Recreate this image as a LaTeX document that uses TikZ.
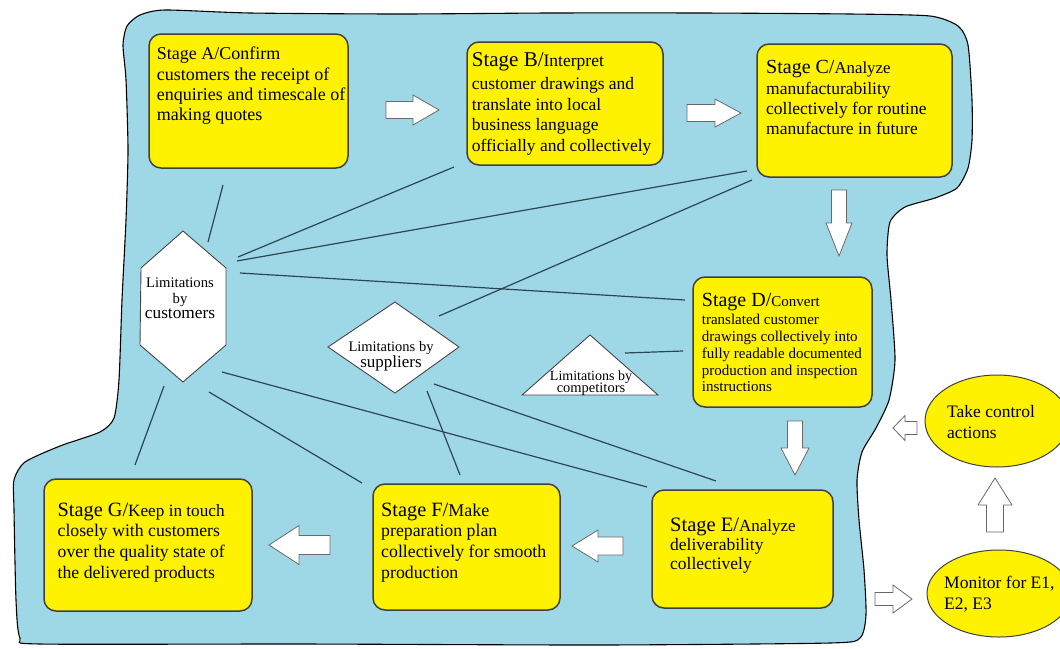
\documentclass[tikz,border=0pt]{standalone}
\usepackage{fontspec}
\setmainfont{Liberation Serif}
\usetikzlibrary{calc,shapes.geometric}
\definecolor{blobfill}{RGB}{158,216,231}
\definecolor{boxfill}{RGB}{255,242,0}
\definecolor{boxdraw}{RGB}{64,64,64}
\definecolor{linkcol}{RGB}{45,70,85}
\definecolor{arrdraw}{RGB}{105,105,105}
\definecolor{shapedraw}{RGB}{70,70,70}
\newcommand{\fs}[2]{\fontsize{#1}{#2}\selectfont}
\newcommand{\blockarrow}[7]{\draw[barrow,shift={(#1,#2)},rotate=#3] (0,#7) -- ({#4-#5},#7) -- ({#4-#5},#6) -- (#4,0) -- ({#4-#5},-#6) -- ({#4-#5},-#7) -- (0,-#7) -- cycle;}
\tikzset{
  stagebox/.style={draw=boxdraw, line width=1.5pt, fill=boxfill, rounded corners=12pt, inner sep=0pt},
  stagetext/.style args={#1/#2}{anchor=north west, align=left, inner sep=0pt, font={\fs{#1}{#2}\lineskiplimit=-50pt\lineskip=0pt}},
  ctext/.style args={#1/#2}{anchor=north, align=center, inner sep=0pt, font={\fs{#1}{#2}\lineskiplimit=-50pt\lineskip=0pt}},
  link/.style={draw=linkcol, line width=1.2pt},
  limshape/.style={draw=shapedraw, line width=0.9pt, fill=white, line join=miter},
  barrow/.style={draw=arrdraw, line width=0.8pt, fill=white, line join=miter},
  ellip/.style={draw=boxdraw, line width=1pt, fill=boxfill, ellipse, inner sep=0pt},
  blob/.style={draw=black, line width=1.1pt, fill=blobfill}
}
\begin{document}
\begin{tikzpicture}[x=1pt,y=-1pt]
\fill[white] (0,0) rectangle (1060,648);
\useasboundingbox (0,0) rectangle (1060,648);
% background blob
\draw[blob] plot[smooth cycle, tension=0.4] coordinates {
(127,26) (140,15) (165,10) (250,13) (400,14) (550,13) (700,13) (850,14) (930,16) (958,26) (968,45) (972,100) (972,140) (968,168) (957,188) (935,198) (905,207) (890,222) (887,255) (891,300) (895,360) (889,400) (876,428) (862,452) (857,480) (859,520) (864,570) (866,615) (860,638) (830,643) (600,645) (300,644) (40,644) (20,638) (16,600) (14,510) (14,480) (25,462) (60,446) (100,432) (114,418) (119,380) (122,300) (126,220) (128,150) (126,80) (123,45)};
% connector end points
\coordinate (a1) at (223,185); \coordinate (h1) at (208,242);
\coordinate (b1) at (454,167); \coordinate (h2) at (238,257);
\coordinate (c1) at (747,171); \coordinate (h3) at (237,261);
\coordinate (c2) at (752,180); \coordinate (s1) at (439,316);
\coordinate (h4) at (240,273); \coordinate (d1) at (685,300);
\coordinate (h5) at (164,386); \coordinate (g1) at (135,465);
\coordinate (h6) at (209,392); \coordinate (f1) at (362,483);
\coordinate (h7) at (222,372); \coordinate (e1) at (647,487);
\coordinate (s2) at (427,391); \coordinate (f2) at (460,475);
\coordinate (s3) at (434,384); \coordinate (e2) at (716,481);
\coordinate (t1) at (625,353); \coordinate (d2) at (683,351);
\draw[link] (a1) -- (h1);
\draw[link] (b1) -- (h2);
\draw[link] (c1) -- (h3);
\draw[link] (c2) -- (s1);
\draw[link] (h4) -- (d1);
\draw[link] (h5) -- (g1);
\draw[link] (h6) -- (f1);
\draw[link] (h7) -- (e1);
\draw[link] (s2) -- (f2);
\draw[link] (s3) -- (e2);
\draw[link] (t1) -- (d2);
% limitation shapes
\draw[limshape] (183,231) -- (226,268) -- (226,345) -- (183,382) -- (140,345) -- (141,268) -- cycle;
\draw[limshape] (328,347) -- (395,302) -- (459,347) -- (395,393) -- cycle;
\draw[limshape] (590,335) -- (658,395) -- (522,395) -- cycle;
\node[ctext=14.7/15.7] (hex) at (180,277.6) {Limitations\\by\\{\fs{17.3}{15.7}customers}};
\node[ctext=14.5/16] (sup) at (391,341.7) {Limitations by\\{\fs{17}{16}suppliers}};
\node[ctext=14/12.5] (comp) at (591,370.3) {Limitations by\\{\fs{14.5}{12.5}competitors}};
% stage boxes
\node[stagebox, minimum width=199pt, minimum height=134pt] (A) at (248.5,101) {};
\node[stagebox, minimum width=196pt, minimum height=123pt] (B) at (565,103.5) {};
\node[stagebox, minimum width=195pt, minimum height=133pt] (C) at (854.5,110.5) {};
\node[stagebox, minimum width=179pt, minimum height=130pt] (D) at (782.5,342) {};
\node[stagebox, minimum width=181pt, minimum height=118pt] (E) at (742.5,549) {};
\node[stagebox, minimum width=187pt, minimum height=126pt] (F) at (466.5,547) {};
\node[stagebox, minimum width=208pt, minimum height=132pt] (G) at (148,545) {};
\node[stagetext=18/20.3] (At) at (156.7,46.9) {Stage A/Confirm\\customers the receipt of\\enquiries and timescale of\\making quotes};
\node[stagetext=17.5/20.5] (Bt) at (471.7,52.2) {{\fs{21}{21}Stage B/}Interpret\\[2.8pt]customer drawings and\\translate into local\\business language\\officially and collectively};
\node[stagetext=17.5/20.3] (Ct) at (766,60.5) {{\fs{20}{20}Stage C/}{\fs{16.8}{20}Analyze}\\manufacturability\\collectively for routine\\manufacture in future};
\node[stagetext=15/16.8] (Dt) at (701.7,292.9) {{\fs{20}{20}Stage D/}{\fs{15}{17}Convert}\\[1.5pt]translated customer\\drawings collectively into\\fully readable documented\\production and inspection\\instructions};
\node[stagetext=17.5/19.2] (Et) at (670,517.6) {{\fs{20.5}{20}Stage E/}{\fs{17}{19}Analyze}\\deliverability\\collectively};
\node[stagetext=17.8/20.7] (Ft) at (381,502.5) {{\fs{20.3}{20}Stage F/}{\fs{18}{20}Make}\\preparation plan\\collectively for smooth\\production};
\node[stagetext=17.7/20.7] (Gt) at (57.5,502.5) {{\fs{20.3}{20}Stage G/}{\fs{17.2}{20}Keep in touch}\\closely with customers\\over the quality state of\\the delivered products};
% control ellipses
\node[ellip, minimum width=144pt, minimum height=92pt] (TC) at (997,421) {};
\node[ellip, minimum width=144pt, minimum height=87pt] (MO) at (999,593.5) {};
\node[stagetext=17.5/21] (TCt) at (947,404.9) {Take control\\actions};
\node[stagetext=17.5/21] (MOt) at (944,575.9) {Monitor for E1,\\E2, E3};
% block arrows
\blockarrow{386}{110}{0}{53}{26}{15}{8.5}
\blockarrow{687}{113}{0}{54}{26}{14}{8.5}
\blockarrow{839}{190}{-90}{66}{33}{13}{7.5}
\blockarrow{795}{421}{-90}{54}{27}{14}{7.5}
\blockarrow{623}{546}{180}{51}{26}{16}{9}
\blockarrow{330}{545}{180}{61}{30}{19.5}{9.5}
\blockarrow{917}{428}{180}{24}{12}{12.5}{6.5}
\blockarrow{995}{532}{90}{54}{27}{17}{8.5}
\blockarrow{875}{599}{0}{37}{19}{14}{6.5}
\end{tikzpicture}
\end{document}
